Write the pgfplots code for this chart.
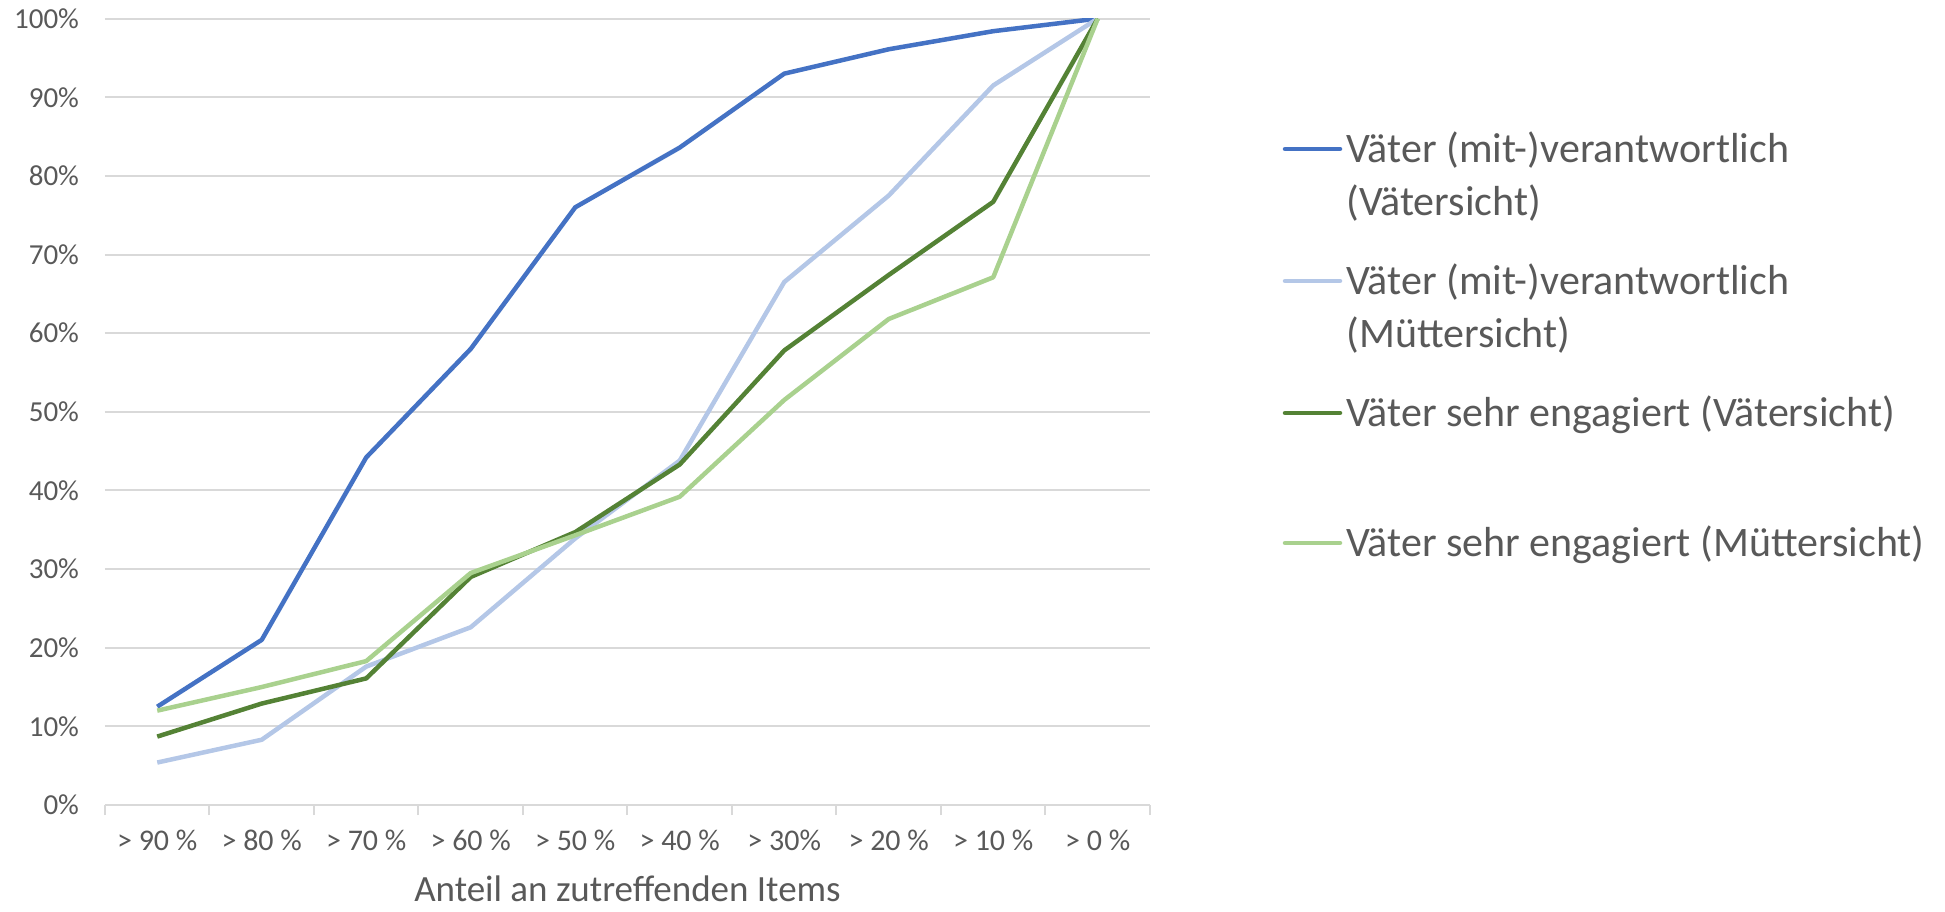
\documentclass[border=0pt]{standalone}
\usepackage{fontspec}
\setmainfont{Carlito}
\usepackage{pgfplots}
\usepackage{pgfplotstable}
\pgfplotsset{compat=1.18}

\definecolor{txt}{HTML}{595959}
\definecolor{gridgray}{HTML}{D9D9D9}
\definecolor{sOne}{HTML}{4472C4}
\definecolor{sTwo}{HTML}{B4C7E7}
\definecolor{sThree}{HTML}{548235}
\definecolor{sFour}{HTML}{A9D18E}

% share of respondents (%) per threshold of applicable items
\pgfplotstableread{
x  vv    vm    ev    em
0  12.5  5.4   8.7   12.0
1  21.0  8.3   12.9  15.0
2  44.2  17.6  16.1  18.3
3  58.0  22.6  29.0  29.5
4  76.0  33.9  34.7  34.3
5  83.6  43.8  43.3  39.2
6  93.0  66.5  57.8  51.5
7  96.1  77.5  67.4  61.8
8  98.4  91.5  76.7  67.1
9  100   100   100   100
}\shares

% one legend key: colour, baseline height of the key line, text
\newcommand\legkey[3]{%
  \draw[#1, line width=2.25pt, line cap=round] (590pt,#2) -- (617.5pt,#2);
  \node[anchor=base west, inner sep=0pt, text=txt,
        font=\fontsize{21}{26.5}\selectfont]
    at (620.5pt,#2-6.8pt) {\parbox[t]{330pt}{#3}};
}

\begin{document}
\begin{tikzpicture}
\begin{axis}[
  scale only axis,
  width=522.5pt, height=393.2pt,
  xmin=-0.5, xmax=9.5, ymin=0, ymax=100,
  xtick={0,...,9},
  xticklabels={> 90 \%, > 80 \%, > 70 \%, > 60 \%, > 50 \%, > 40 \%, > 30\%, > 20 \%, > 10 \%, > 0 \%},
  minor xtick={-0.5,0.5,...,9.5},
  ytick={0,10,...,100},
  yticklabel={\pgfmathprintnumber{\tick}\%},
  /pgf/number format/assume math mode=true,
  major tick length=0pt,
  minor tick length=5pt,
  tick align=outside,
  minor x tick style={gridgray, line width=1pt},
  ymajorgrids,
  grid style={gridgray, line width=1pt},
  axis x line*=bottom,
  axis y line*=left,
  x axis line style={gridgray, line width=1pt, -},
  y axis line style={draw=none},
  ticklabel style={font=\fontsize{14.5}{17}\selectfont, text=txt},
  xticklabel style={yshift=-9pt, font=\fontsize{15}{17}\selectfont},
  yticklabel style={xshift=-9.5pt},
  xlabel={Anteil an zutreffenden Items},
  xlabel style={at={(axis description cs:0.5,0)}, anchor=center, yshift=-42pt,
    inner sep=0pt, font=\fontsize{18.5}{22}\selectfont, text=txt},
  every axis plot/.append style={line width=2.25pt, line join=round, mark=none},
]
\addplot[sOne]   table[x=x, y=vv] {\shares};
\addplot[sTwo]   table[x=x, y=vm] {\shares};
\addplot[sThree] table[x=x, y=ev] {\shares};
\addplot[sFour]  table[x=x, y=em] {\shares};
\end{axis}
% legend to the right of the plot area
\legkey{sOne}{328pt}{Väter (mit-)verantwortlich\\(Vätersicht)}
\legkey{sTwo}{262pt}{Väter (mit-)verantwortlich\\(Müttersicht)}
\legkey{sThree}{196pt}{Väter sehr engagiert (Vätersicht)}
\legkey{sFour}{131pt}{Väter sehr engagiert (Müttersicht)}
\pgfresetboundingbox
\path[use as bounding box] (-52.5pt,-53pt) rectangle (920pt,402.5pt);
\end{tikzpicture}
\end{document}
